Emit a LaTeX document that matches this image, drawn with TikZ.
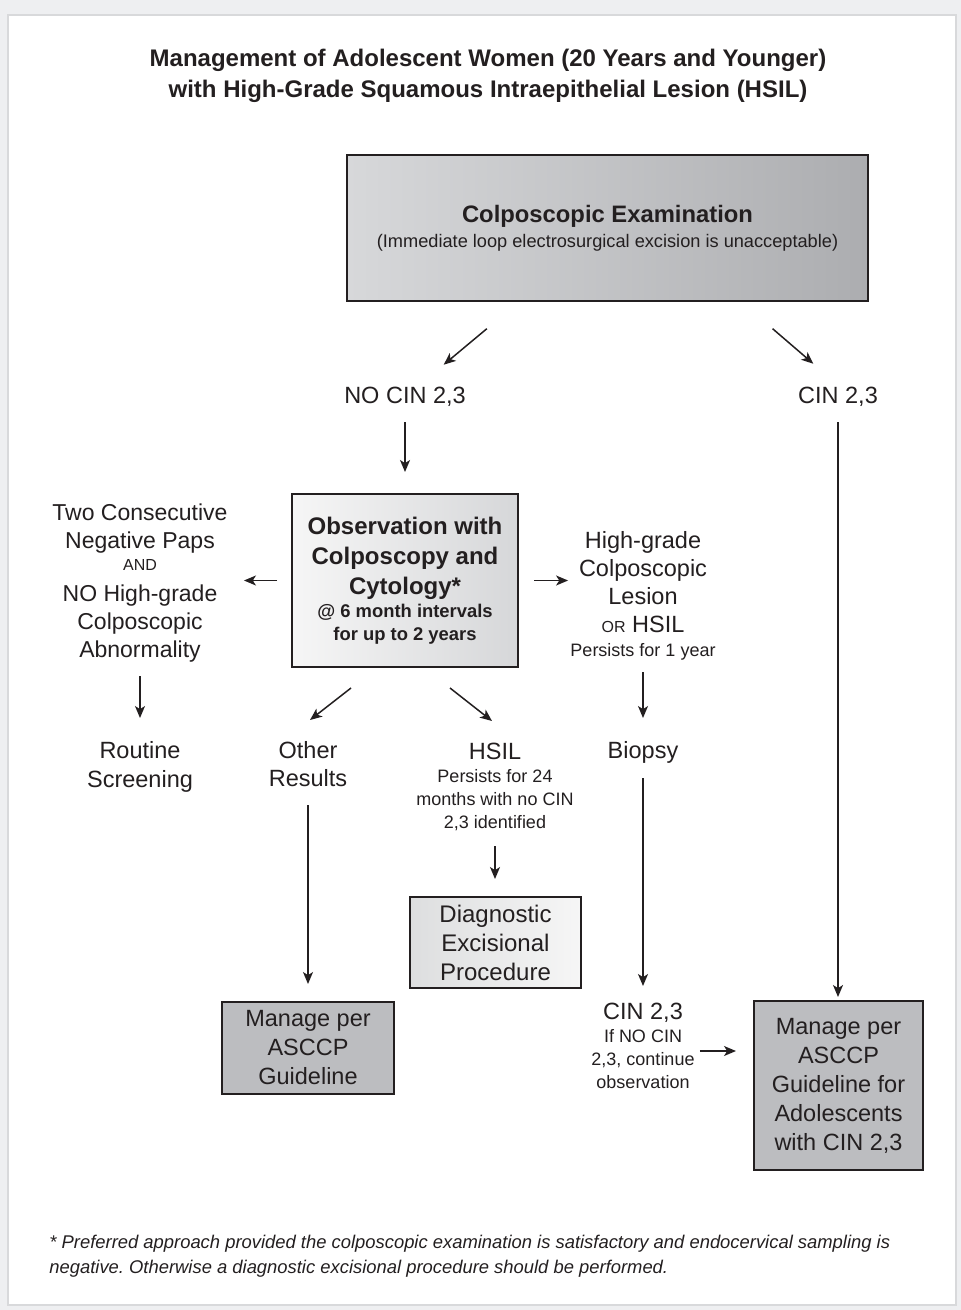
\documentclass[tikz,border=0pt]{standalone}
\usepackage{fontspec}
\setmainfont{Liberation Sans}
\usepackage{xcolor}
\usetikzlibrary{arrows.meta, positioning}
\frenchspacing
\definecolor{txt}{HTML}{231F20}
\definecolor{pagebg}{HTML}{EEEFF1}
\definecolor{panelline}{HTML}{D8D9DB}
\definecolor{mnggray}{HTML}{BCBDC0}
\definecolor{colpoL}{HTML}{D7D8DA}
\definecolor{colpoR}{HTML}{ACADB0}
\definecolor{obsL}{HTML}{F6F6F6}
\definecolor{obsR}{HTML}{D6D7D9}
\definecolor{diagL}{HTML}{DDDEDF}
\definecolor{diagR}{HTML}{F6F6F6}

\begin{document}
\begin{tikzpicture}[x=0.5pt, y=0.5pt, >={Stealth[length=6pt, width=5pt, inset=1.6pt]},
    every node/.style={text=txt, align=center, inner sep=0pt},
    body/.style={font=\fontsize{11.75}{14.25}\selectfont},
    smalltxt/.style={font=\fontsize{9}{11.5}\selectfont},
    box/.style={draw=txt, line width=1pt},
    arr/.style={->, line width=0.75pt, draw=txt}]
    % 1. Nền trang
    \useasboundingbox (0,0) rectangle (961,-1310);
    \fill[pagebg] (0,0) rectangle (961,-1310);
    \filldraw[fill=white, draw=panelline, line width=0.8pt] (8,-15) rectangle (956,-1305);

    % 2. Tiêu đề
    \node[font=\bfseries\fontsize{12}{15.5}\selectfont] (title) at (488,-75.5)
        {Management of Adolescent Women (20 Years and Younger)\\
         with High-Grade Squamous Intraepithelial Lesion (HSIL)};

    % 3. Các hộp và nhãn
    \node[box, minimum width=260.5pt, minimum height=73pt,
          left color=colpoL, right color=colpoR,
          font=\fontsize{11.9}{13}\selectfont] (colpo) at (607.5,-228)
        {\textbf{Colposcopic Examination}\\[-0.5pt]
         {\fontsize{9.1}{10}\selectfont (Immediate loop electrosurgical excision is unacceptable)}};
    \node[body] (nocin) at (405,-397) {NO CIN 2,3};
    \node[body] (cin23) at (838,-397) {CIN 2,3};

    \node[box, minimum width=113pt, minimum height=86.5pt,
          left color=obsL, right color=obsR,
          font=\bfseries\fontsize{12}{15}\selectfont] (obs) at (405,-580.5)
        {Observation with\\ Colposcopy and\\ Cytology*\\[-3.25pt]
         {\fontsize{9.2}{11}\selectfont @ 6 month intervals}\\[-3.5pt]
         {\fontsize{9.2}{11}\selectfont for up to 2 years}};

    \node[body, font=\fontsize{11.5}{14}\selectfont] (twoneg) at (140,-583)
        {Two Consecutive\\ Negative Paps\\[-2.75pt]
         {\fontsize{8}{9}\selectfont AND}\\[1.25pt]
         NO High-grade\\ Colposcopic\\ Abnormality};
    \node[body, font=\fontsize{11.75}{14}\selectfont] (hgrade) at (643,-596)
        {High-grade\\ Colposcopic\\ Lesion\\
         {\fontsize{8}{9}\selectfont OR} HSIL\\[-1.75pt]
         {\fontsize{9}{11}\selectfont Persists for 1 year}};

    \node[body] (routine) at (140,-767) {Routine\\ Screening};
    \node[body] (other) at (308,-764) {Other\\ Results};
    \node[body] (biopsy) at (643,-752) {Biopsy};
    \node[smalltxt] (hsil) at (495,-787)
        {{\fontsize{11.75}{14}\selectfont HSIL}\\ Persists for 24\\ months with no CIN\\ 2,3 identified};

    \node[box, fill=mnggray, minimum width=86pt, minimum height=46pt,
          font=\fontsize{11.75}{14.5}\selectfont] (mng1) at (308,-1048)
        {Manage per\\ ASCCP\\ Guideline};
    \node[box, minimum width=85.5pt, minimum height=45.5pt,
          left color=diagL, right color=diagR,
          font=\fontsize{12}{14.5}\selectfont] (diag) at (495.5,-942.5)
        {Diagnostic\\ Excisional\\ Procedure};
    \node[smalltxt] (cin23b) at (643,-1046)
        {{\fontsize{11.75}{14}\selectfont CIN 2,3}\\ If NO CIN\\ 2,3, continue\\ observation};
    \node[box, fill=mnggray, minimum width=84.5pt, minimum height=84.5pt,
          font=\fontsize{11.75}{14.5}\selectfont] (mng2) at (838.5,-1085.5)
        {Manage per\\ ASCCP\\ Guideline for\\ Adolescents\\ with CIN 2,3};

    % 4. Mũi tên
    \draw[arr, shorten <=78.6pt, shorten >=25.2pt] (colpo.center) -- (nocin.center);
    \draw[arr, shorten <=77.2pt, shorten >=25.5pt] ([xshift=24pt]colpo.center) -- ([xshift=7pt]cin23.center);
    \draw[arr, shorten <=12.5pt, shorten >=10.5pt] (nocin.center) -- (obs.north);
    \draw[arr, shorten <=12.5pt, shorten >=1.5pt] (cin23.center) -- (cin23.center |- mng2.north);
    \draw[arr, shorten <=7pt, shorten >=8pt] (obs.west) -- (obs.west -| twoneg.east);
    \draw[arr, shorten <=7.5pt, shorten >=1pt] (obs.east) -- (obs.east -| hgrade.west);
    \draw[arr, shorten <=46.5pt, shorten >=24.5pt] (twoneg.center) -- (routine.center);
    \draw[arr, shorten <=38pt, shorten >=17pt] (hgrade.center) -- (biopsy.center);
    \draw[arr] ([shift={(-54,-20)}]obs.south) -- ([shift={(2,44)}]other.center);
    \draw[arr] ([shift={(45,-20)}]obs.south) -- ([shift={(-3,66)}]hsil.center);
    \draw[arr, shorten <=20.5pt, shorten >=8.5pt] (other.center) -- (mng1.north);
    \draw[arr, shorten <=29.5pt, shorten >=8.5pt] (hsil.center) -- (hsil.center |- diag.north);
    \draw[arr, shorten <=13pt, shorten >=30pt] (biopsy.center) -- (cin23b.center);
    \draw[arr, shorten <=2.5pt, shorten >=8.5pt] ([yshift=-2.5pt]cin23b.east) -- ([yshift=-2.5pt]cin23b.east -| mng2.west);

    % 5. Chú thích
    \node[anchor=north west, align=left, font=\itshape\fontsize{9.2}{12.5}\selectfont] (note) at (49,-1235)
        {* Preferred approach provided the colposcopic examination is satisfactory and endocervical sampling is\\
         negative. Otherwise a diagnostic excisional procedure should be performed.};
\end{tikzpicture}
\end{document}
